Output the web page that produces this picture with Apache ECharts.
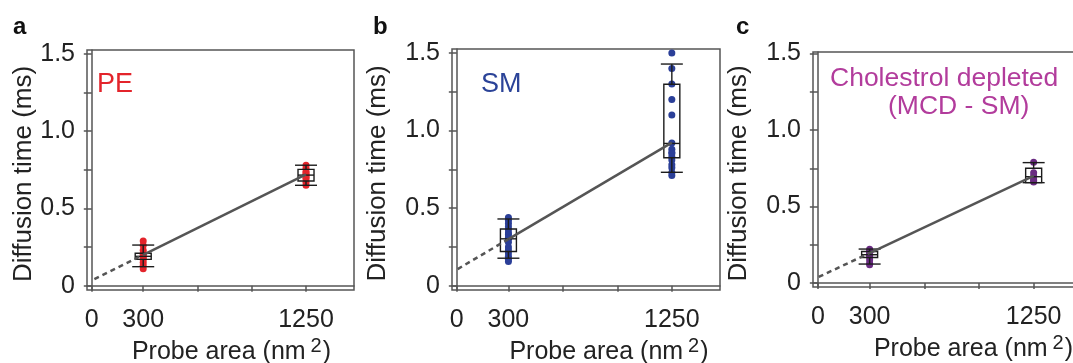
<!DOCTYPE html>
<html>
<head>
<meta charset="utf-8">
<script src="https://cdn.jsdelivr.net/npm/echarts@6/dist/echarts.min.js"></script>
<style>
html,body{margin:0;padding:0;background:#fff;}
#chart{width:1073px;height:363px;}
</style>
</head>
<body>
<div id="chart"></div>
<script>
// ---- data ----
const panelLetters = ['a', 'b', 'c'];
const panelNames = ['PE', 'SM', 'Cholestrol depleted', '(MCD - SM)'];
const probeAreas = [300, 1250];
const xTickValues = [0, 300, 616.7, 933.3, 1250];
const xLabelValues = [0, 300, 1250];
const yTickValues = [0, 0.25, 0.5, 0.75, 1.0, 1.25, 1.5];
const yLabelValues = [0, 0.5, 1.0, 1.5];

// individual measurements (ms)
const pe300 = [0.29, 0.26, 0.23, 0.21, 0.20, 0.19, 0.18, 0.17, 0.15, 0.13, 0.11];
const pe1250 = [0.78, 0.76, 0.74, 0.73, 0.72, 0.71, 0.70, 0.69, 0.67, 0.65];
const sm300 = [0.44, 0.42, 0.40, 0.38, 0.36, 0.34, 0.33, 0.31, 0.30, 0.28, 0.25, 0.23, 0.21, 0.19, 0.17, 0.155];
const sm1250 = [1.50, 1.40, 1.30, 1.20, 1.10, 0.92, 0.88, 0.86, 0.85, 0.83, 0.81, 0.78, 0.76, 0.73, 0.71];
const mcd300 = [0.22, 0.21, 0.20, 0.19, 0.18, 0.17, 0.15, 0.13, 0.12];
const mcd1250 = [0.79, 0.72, 0.70, 0.68, 0.67, 0.66];

// box stats: [low whisker, q1, median, q3, high whisker]
const peBox300 = [0.123, 0.17, 0.19, 0.21, 0.263];
const peBox1250 = [0.65, 0.678, 0.716, 0.753, 0.78];
const smBox300 = [0.177, 0.22, 0.302, 0.365, 0.43];
const smBox1250 = [0.731, 0.825, 0.917, 1.299, 1.429];
const mcdBox300 = [0.124, 0.167, 0.185, 0.206, 0.222];
const mcdBox1250 = [0.656, 0.656, 0.695, 0.75, 0.787];

// linear fit: x positions and fitted values
const fitXPE = [15, 300, 1250];
const fitPE = [0.042, 0.199, 0.721];
const fitXSM = [5, 300, 1250];
const fitSM = [0.107, 0.30, 0.922];
const fitXMCD = [5, 300, 1250];
const fitMCD = [0.040, 0.196, 0.70];

const xAxisTitle = 'Probe area (nm';
const yAxisTitle = 'Diffusion time (ms)';

// ---- layout / style ----
const FONT = '"Liberation Sans", Arial, Helvetica, sans-serif';
const AXIS_COLOR = '#555';
const TEXT_COLOR = '#222';
const grids = [
  {left: 87, top: 50, width: 267, height: 240},
  {left: 452, top: 49, width: 268, height: 241},
  {left: 813, top: 52, width: 269, height: 235}
];
const yRanges = [[-0.028, 1.526], [-0.028, 1.526], [-0.026, 1.51]];
const xNamePad = [22, 46, 52];
const yNameGap = [50, 61, 61];

const panels = [
  {dots: [pe300, pe1250], box: [peBox300, peBox1250], fitX: fitXPE, fit: fitPE, color: '#e3242b'},
  {dots: [sm300, sm1250], box: [smBox300, smBox1250], fitX: fitXSM, fit: fitSM, color: '#2b3f98'},
  {dots: [mcd300, mcd1250], box: [mcdBox300, mcdBox1250], fitX: fitXMCD, fit: fitMCD, color: '#6a2b82'}
];

const xAxes = [], yAxes = [], series = [];
panels.forEach((p, i) => {
  xAxes.push({
    type: 'value', gridIndex: i, min: -28, max: 1530,
    axisLine: {show: true, lineStyle: {color: AXIS_COLOR, width: 1.5}},
    axisTick: {show: true, customValues: xTickValues, length: 6, lineStyle: {color: AXIS_COLOR, width: 1.5}},
    axisLabel: {customValues: xLabelValues, margin: 18, fontSize: 25, fontFamily: FONT, color: TEXT_COLOR,
      formatter: v => String(Math.round(v))},
    splitLine: {show: false},
    name: '{m|' + xAxisTitle + '}{s|2}{m|)}',
    nameLocation: 'middle', nameGap: 45, nameMoveOverlap: false,
    nameTextStyle: {
      fontSize: 25, fontFamily: FONT, color: TEXT_COLOR, padding: [0, 0, 0, xNamePad[i]],
      rich: {
        m: {fontSize: 25, fontFamily: FONT, color: TEXT_COLOR, lineHeight: 30, verticalAlign: 'bottom'},
        s: {fontSize: 20, fontFamily: FONT, color: TEXT_COLOR, lineHeight: 20, verticalAlign: 'bottom', padding: [0, 1, 9, 5]}
      }
    }
  });
  yAxes.push({
    type: 'value', gridIndex: i, min: yRanges[i][0], max: yRanges[i][1],
    axisLine: {show: true, lineStyle: {color: AXIS_COLOR, width: 1.5}},
    axisTick: {show: true, customValues: yTickValues, length: 8, lineStyle: {color: AXIS_COLOR, width: 1.5}},
    axisLabel: {customValues: yLabelValues, margin: 12, fontSize: 25, fontFamily: FONT, color: TEXT_COLOR,
      formatter: v => (v === 0 ? '0' : Number(v).toFixed(1))},
    splitLine: {show: false},
    name: yAxisTitle, nameLocation: 'middle', nameGap: yNameGap[i], nameRotate: 90, nameMoveOverlap: false,
    nameTextStyle: {fontSize: 26, fontFamily: FONT, color: TEXT_COLOR, padding: [0, 8, 0, 0]}
  });
  // dots
  const pts = [];
  p.dots.forEach((arr, k) => arr.forEach(v => pts.push([probeAreas[k], v])));
  series.push({
    type: 'scatter', xAxisIndex: i, yAxisIndex: i, data: pts, symbolSize: 7,
    itemStyle: {color: p.color, opacity: 1}, z: 2
  });
  // box plots
  series.push({
    type: 'custom', xAxisIndex: i, yAxisIndex: i, z: 3,
    data: p.box.map((b, k) => [probeAreas[k]].concat(b)),
    encode: {x: 0, y: [1, 2, 3, 4, 5]},
    renderItem: function (params, api) {
      const x = api.value(0);
      const c = v => api.coord([x, v]);
      const lo = c(api.value(1)), q1 = c(api.value(2)), md = c(api.value(3)), q3 = c(api.value(4)), hi = c(api.value(5));
      const cx = lo[0], bw = 8, cw = 11;
      const st = {stroke: '#1c1c1c', lineWidth: 1.4, fill: null};
      return {type: 'group', children: [
        {type: 'rect', shape: {x: cx - bw, y: q3[1], width: 2 * bw, height: q1[1] - q3[1]}, style: st},
        {type: 'line', shape: {x1: cx - bw, y1: md[1], x2: cx + bw, y2: md[1]}, style: st},
        {type: 'line', shape: {x1: cx, y1: q3[1], x2: cx, y2: hi[1]}, style: st},
        {type: 'line', shape: {x1: cx, y1: q1[1], x2: cx, y2: lo[1]}, style: st},
        {type: 'line', shape: {x1: cx - cw, y1: hi[1], x2: cx + cw, y2: hi[1]}, style: st},
        {type: 'line', shape: {x1: cx - cw, y1: lo[1], x2: cx + cw, y2: lo[1]}, style: st}
      ]};
    }
  });
  // fit line: dashed extrapolation then solid
  series.push({
    type: 'line', xAxisIndex: i, yAxisIndex: i, z: 4, symbol: 'none',
    data: [[p.fitX[0], p.fit[0]], [p.fitX[1], p.fit[1]]],
    lineStyle: {color: '#555', width: 2.5, type: [5, 4]}
  });
  series.push({
    type: 'line', xAxisIndex: i, yAxisIndex: i, z: 4, symbol: 'none',
    data: [[p.fitX[1], p.fit[1]], [p.fitX[2], p.fit[2]]],
    lineStyle: {color: '#555', width: 2.5}
  });
});

const letterPos = [[13, 27], [373, 27], [736, 27]];
const graphic = panelLetters.map((t, i) => ({
  type: 'text', x: letterPos[i][0], y: letterPos[i][1],
  style: {text: t, font: 'bold 24px ' + FONT, fill: '#111', verticalAlign: 'middle'}
}));
graphic.push({type: 'text', x: 97, y: 85, style: {text: panelNames[0], font: '27px ' + FONT, fill: '#e3242b', verticalAlign: 'middle'}});
graphic.push({type: 'text', x: 481, y: 85, style: {text: panelNames[1], font: '27px ' + FONT, fill: '#2b4398', verticalAlign: 'middle'}});
graphic.push({type: 'text', x: 830, y: 79, style: {text: panelNames[2], font: '26.5px ' + FONT, fill: '#b23c9c', verticalAlign: 'middle'}});
graphic.push({type: 'text', x: 888, y: 107, style: {text: panelNames[3], font: '26.5px ' + FONT, fill: '#b23c9c', verticalAlign: 'middle'}});

const chart = echarts.init(document.getElementById('chart'), null, {renderer: 'canvas'});
chart.setOption({
  animation: false,
  backgroundColor: '#fff',
  grid: grids.map(g => Object.assign({show: true, borderColor: AXIS_COLOR, borderWidth: 1.5, backgroundColor: 'transparent', containLabel: false, outerBoundsMode: 'none'}, g)),
  xAxis: xAxes,
  yAxis: yAxes,
  series: series,
  graphic: graphic
});
</script>
</body>
</html>
